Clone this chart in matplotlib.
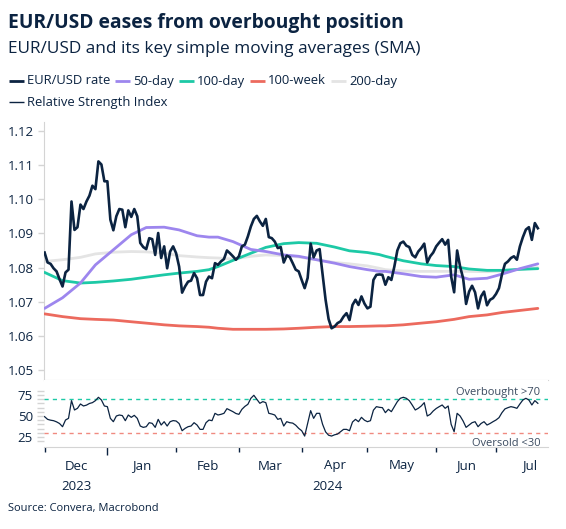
import numpy as np
import pandas as pd
import matplotlib
matplotlib.use("Agg")
import matplotlib.pyplot as plt
from matplotlib.lines import Line2D

plt.rcParams['font.family'] = ['Open Sans', 'DejaVu Sans']

# ---------------- data ----------------
start_date = "2023-12-01"
end_date = "2024-07-19"
price_dates = pd.bdate_range(start_date, end_date)

eurusd = [
    1.0844, 1.0815, 1.0811, 1.0798, 1.0789, 1.0766, 1.0745, 1.0786, 1.0794, 1.0993,
    1.0910, 1.0918, 1.0984, 1.0971, 1.0993, 1.1010, 1.1039, 1.1029, 1.1110, 1.1101,
    1.1052, 1.1052, 1.0940, 1.0909, 1.0950, 1.0971, 1.0969, 1.0918, 1.0967, 1.0948,
    1.0971, 1.0950, 1.0872, 1.0860, 1.0854, 1.0886, 1.0883, 1.0837, 1.0901, 1.0828,
    1.0862, 1.0798, 1.0847, 1.0862, 1.0842, 1.0803, 1.0727, 1.0745, 1.0759, 1.0762,
    1.0784, 1.0769, 1.0720, 1.0720, 1.0759, 1.0774, 1.0769, 1.0813, 1.0808, 1.0818,
    1.0825, 1.0850, 1.0842, 1.0833, 1.0823, 1.0833, 1.0862, 1.0867, 1.0891, 1.0920,
    1.0942, 1.0951, 1.0935, 1.0922, 1.0942, 1.0889, 1.0886, 1.0876, 1.0857, 1.0860,
    1.0815, 1.0835, 1.0831, 1.0813, 1.0794, 1.0789, 1.0764, 1.0740, 1.0770, 1.0870,
    1.0830, 1.0850, 1.0854, 1.0780, 1.0706, 1.0650, 1.0623, 1.0628, 1.0638, 1.0643,
    1.0657, 1.0667, 1.0647, 1.0691, 1.0706, 1.0691, 1.0716, 1.0695, 1.0681, 1.0686,
    1.0764, 1.0779, 1.0780, 1.0779, 1.0750, 1.0772, 1.0764, 1.0803, 1.0850, 1.0871,
    1.0876, 1.0864, 1.0860, 1.0837, 1.0830, 1.0847, 1.0857, 1.0870, 1.0815, 1.0833,
    1.0844, 1.0862, 1.0873, 1.0883, 1.0867, 1.0881, 1.0774, 1.0728, 1.0850, 1.0803,
    1.0769, 1.0694, 1.0730, 1.0747, 1.0728, 1.0681, 1.0716, 1.0730, 1.0690, 1.0706,
    1.0711, 1.0723, 1.0740, 1.0780, 1.0811, 1.0818, 1.0828, 1.0833, 1.0823, 1.0862,
    1.0889, 1.0911, 1.0918, 1.0881, 1.0930, 1.0915,
]

rsi = [
    49.2, 46.0, 45.0, 44.4, 43.0, 41.0, 37.2, 45.2, 47.2, 68.4,
    57.2, 59.2, 64.4, 62.0, 63.0, 65.0, 66.0, 68.4, 72.4, 69.2,
    62.0, 61.2, 47.2, 43.2, 50.0, 51.2, 50.5, 44.4, 51.2, 48.4,
    50.8, 47.2, 38.0, 36.4, 37.2, 42.0, 41.2, 36.4, 46.0, 39.2,
    43.2, 38.0, 43.2, 44.5, 44.0, 41.0, 32.4, 35.2, 37.2, 38.0,
    42.0, 39.2, 34.0, 34.0, 42.0, 45.2, 44.4, 53.2, 51.2, 52.0,
    53.2, 58.8, 57.0, 55.2, 53.0, 52.0, 58.0, 61.5, 64.0, 71.2,
    74.8, 70.0, 65.2, 67.2, 66.0, 53.2, 52.4, 51.2, 46.0, 47.2,
    38.0, 43.2, 42.0, 41.5, 39.0, 35.2, 32.4, 26.0, 41.2, 56.4,
    47.2, 53.2, 53.2, 40.0, 31.0, 27.0, 26.0, 27.5, 28.4, 31.2,
    34.0, 34.0, 32.4, 42.8, 46.0, 43.2, 48.4, 45.0, 43.2, 44.4,
    57.0, 61.2, 60.4, 60.0, 54.0, 58.0, 55.2, 61.2, 67.2, 71.2,
    72.4, 71.2, 68.4, 63.0, 57.2, 59.2, 62.0, 66.0, 50.0, 52.0,
    56.0, 59.0, 61.2, 63.2, 59.2, 62.0, 40.0, 31.2, 53.2, 50.0,
    44.0, 36.4, 39.2, 42.0, 43.2, 37.2, 41.0, 43.2, 39.2, 41.0,
    43.2, 45.2, 48.0, 54.0, 58.5, 60.0, 61.2, 60.4, 59.2, 64.4,
    69.2, 71.2, 69.2, 63.2, 68.4, 65.2,
]

ma_dates = [
    "2023-12-01", "2023-12-11", "2023-12-19", "2023-12-26", "2024-01-03", "2024-01-11",
    "2024-01-18", "2024-01-26", "2024-02-02", "2024-02-12", "2024-02-16", "2024-02-21",
    "2024-02-28", "2024-03-07", "2024-03-14", "2024-03-22", "2024-03-29", "2024-04-08",
    "2024-04-16", "2024-04-23", "2024-05-01", "2024-05-07", "2024-05-09", "2024-05-17",
    "2024-05-27", "2024-06-03", "2024-06-11", "2024-06-18", "2024-06-26", "2024-07-03",
    "2024-07-11", "2024-07-19",
]
sma50 = [
    1.0681, 1.0712, 1.0755, 1.0808, 1.0852, 1.0896, 1.0917, 1.0918, 1.0910, 1.0893,
    1.0889, 1.0889, 1.0876, 1.0853, 1.0847, 1.0837, 1.0833, 1.0823, 1.0813, 1.0803,
    1.0794, 1.0789, 1.0789, 1.0782, 1.0774, 1.0772, 1.0779, 1.0766, 1.0769, 1.0781,
    1.0797, 1.0811,
]
sma100 = [
    1.0786, 1.0762, 1.0755, 1.0757, 1.0761, 1.0766, 1.0772, 1.0779, 1.0784, 1.0789,
    1.0794, 1.0803, 1.0821, 1.0842, 1.0859, 1.0870, 1.0873, 1.0871, 1.0860, 1.0849,
    1.0844, 1.0838, 1.0833, 1.0820, 1.0811, 1.0806, 1.0803, 1.0796, 1.0792, 1.0792,
    1.0795, 1.0797,
]
sma100w = [
    1.0665, 1.0657, 1.0651, 1.0649, 1.0647, 1.0642, 1.0638, 1.0633, 1.0630, 1.0628,
    1.0626, 1.0623, 1.0620, 1.0620, 1.0620, 1.0621, 1.0623, 1.0626, 1.0628, 1.0628,
    1.0629, 1.0630, 1.0630, 1.0633, 1.0638, 1.0642, 1.0649, 1.0657, 1.0662, 1.0669,
    1.0675, 1.0681,
]
sma200 = [
    1.0818, 1.0823, 1.0830, 1.0840, 1.0845, 1.0847, 1.0846, 1.0842, 1.0835, 1.0831,
    1.0829, 1.0828, 1.0825, 1.0833, 1.0837, 1.0835, 1.0831, 1.0823, 1.0815, 1.0811,
    1.0805, 1.0798, 1.0794, 1.0790, 1.0789, 1.0789, 1.0789, 1.0789, 1.0788, 1.0790,
    1.0795, 1.0800,
]

month_starts = ["2023-12-01", "2024-01-01", "2024-02-01", "2024-03-01", "2024-04-01",
                "2024-05-01", "2024-06-01", "2024-07-01"]
month_labels = ["Dec", "Jan", "Feb", "Mar", "Apr", "May", "Jun", "Jul"]
year_labels = ["2023", "2024"]
legend_labels = ["EUR/USD rate", "50-day", "100-day", "100-week", "200-day"]
rsi_legend = "Relative Strength Index"
overbought, oversold = 70, 30

# ---------------- styling ----------------
NAVY = "#0b2341"
PURPLE = "#9d86ee"
TEAL = "#1dc9a6"
RED = "#ec6a5e"
LGRAY = "#e4e4e4"
SPINE = "#d4d4d4"

W, H = 566, 529
fig = plt.figure(figsize=(W / 100, H / 100), dpi=100)


def fx(px):
    return px / W


def fy(py):
    return 1 - py / H


def bd(dates):
    d = np.array(pd.to_datetime(dates).values.astype("datetime64[D]"))
    return np.busday_count(np.datetime64(start_date), d)


x_price = bd(price_dates)
x_ma = bd(ma_dates)
x_months = bd(month_starts)
x_end_axis = 168.4
RSI_LO, RSI_HI = 12.9, 93.1

ax = fig.add_axes([fx(44), fy(380), fx(548) - fx(44), fy(122) - fy(380)])
ax2 = fig.add_axes([fx(44), fy(447), fx(548) - fx(44), fy(380) - fy(447)], sharex=ax)

ax.plot(x_ma, sma200, color=LGRAY, lw=2.0, zorder=2, solid_capstyle="round")
ax.plot(x_ma, sma100w, color=RED, lw=2.0, zorder=3, solid_capstyle="round")
ax.plot(x_ma, sma100, color=TEAL, lw=2.0, zorder=3, solid_capstyle="round")
ax.plot(x_ma, sma50, color=PURPLE, lw=2.0, zorder=4, solid_capstyle="round")
ax.plot(x_price, eurusd, color=NAVY, lw=1.9, zorder=5, solid_joinstyle="round")

ax.set_xlim(-0.2, x_end_axis)
ax.set_ylim(1.0472, 1.1225)
yt = [1.05, 1.06, 1.07, 1.08, 1.09, 1.10, 1.11, 1.12]
ax.set_yticks(yt)
ax.set_yticklabels([f"{v:.2f}" for v in yt])
for s in ["top", "right"]:
    ax.spines[s].set_visible(False)
ax.spines["left"].set_color(SPINE)
ax.spines["bottom"].set_color(SPINE)
ax.tick_params(axis="y", colors=SPINE, length=4, width=1, labelcolor=NAVY, labelsize=9.5, pad=3)
ax.tick_params(axis="x", bottom=False, labelbottom=False)

# RSI panel
ax2.plot(x_price, rsi, color=NAVY, lw=0.9, zorder=4)
ax2.axhline(overbought, color=TEAL, lw=1.0, ls=(0, (3, 3)), zorder=2)
ax2.axhline(oversold, color="#f08a80", lw=1.0, ls=(0, (3, 3)), zorder=2)
ax2.set_ylim(RSI_LO, RSI_HI)
ax2.set_yticks([25, 50, 75])
ax2.set_yticks(np.arange(20, 85, 5), minor=True)
for s in ["top", "right", "left"]:
    ax2.spines[s].set_visible(False)
ax2.spines["bottom"].set_color(SPINE)
ax2.tick_params(axis="y", which="major", colors=SPINE, length=5, width=1, labelcolor=NAVY, labelsize=9.5, pad=3)
ax2.tick_params(axis="y", which="minor", colors=SPINE, length=5, width=1)
ax2.set_xticks(x_months)
ax2.set_xticklabels([])
ax2.tick_params(axis="x", colors=NAVY, length=3.5, width=1)
ax2.tick_params(axis="x", which="minor", bottom=False)
# taller tick at the year boundary
ax2.xaxis.get_major_ticks()[1].tick1line.set_markersize(6)

ax2.text(0.985, (447 - 392.5) / 67, "Overbought >70", transform=ax2.transAxes,
         ha="right", va="center", fontsize=8, color="#3b4b60")
ax2.text(0.985, (447 - 443.5) / 67, "Oversold <30", transform=ax2.transAxes,
         ha="right", va="center", fontsize=8, color="#3b4b60", clip_on=True)

# month and year labels
centers = [(x_months[i] + x_months[i + 1]) / 2 for i in range(len(x_months) - 1)]
centers.append(162.4)
for c, lab in zip(centers, month_labels):
    ax2.annotate(lab, xy=(c, 0), xycoords=("data", "axes fraction"), xytext=(0, -19),
                 textcoords="offset pixels", ha="center", va="center", fontsize=9.5, color=NAVY)
year_pos = [centers[0], (x_months[1] + x_end_axis) / 2]
for c, lab in zip(year_pos, year_labels):
    ax2.annotate(lab, xy=(c, 0), xycoords=("data", "axes fraction"), xytext=(0, -39),
                 textcoords="offset pixels", ha="center", va="center", fontsize=9.5, color=NAVY)

# titles
fig.text(fx(8), fy(23), "EUR/USD eases from overbought position", fontsize=13.9, fontweight="bold",
         color=NAVY, ha="left", va="center")
fig.text(fx(8), fy(49), "EUR/USD and its key simple moving averages (SMA)", fontsize=12.4,
         color=NAVY, ha="left", va="center")

# legend
fig.canvas.draw()
renderer = fig.canvas.get_renderer()
colors = [NAVY, PURPLE, TEAL, RED, LGRAY]
xcur = 9
for lab, col in zip(legend_labels, colors):
    fig.add_artist(Line2D([fx(xcur), fx(xcur + 15)], [fy(81), fy(81)], color=col, lw=2.0,
                          solid_capstyle="butt", transform=fig.transFigure))
    t = fig.text(fx(xcur + 18), fy(81), lab, fontsize=9.4, color=NAVY, ha="left", va="center")
    bb = t.get_window_extent(renderer)
    xcur = bb.x1 + 5
fig.add_artist(Line2D([fx(9), fx(24)], [fy(102), fy(102)], color=NAVY, lw=1.0,
                      solid_capstyle="butt", transform=fig.transFigure))
fig.text(fx(27), fy(102), rsi_legend, fontsize=9.4, color=NAVY, ha="left", va="center")

fig.text(fx(8), fy(509), "Source: Convera, Macrobond", fontsize=8, color=NAVY, ha="left", va="center")

fig.savefig("out.png", dpi=100, facecolor="white")
